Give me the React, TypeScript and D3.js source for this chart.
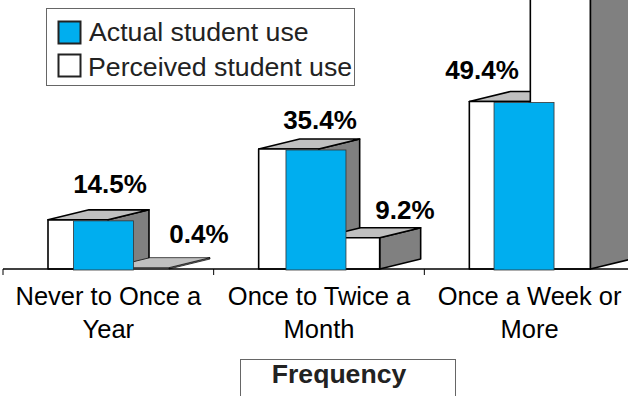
import React from "react";
import * as d3 from "d3";

const categories = ["Never to Once a Year", "Once to Twice a Month", "Once a Week or More"];
const categoryLines = [["Never to Once a", "Year"], ["Once to Twice a", "Month"], ["Once a Week or", "More"]];
const actualUse = [14.5, 35.4, 49.4];
const perceivedUse = [0.4, 9.2, 92];
const perceivedLabels = ["0.4%", "9.2%", null];

const W = 628, H = 396;
const DEPTH_X = 41, DEPTH_Y = 10;
const BAR_W = 60;
const BASE = 269;

const x = d3.scaleBand<string>().domain(categories).range([3, 635]);
const y = d3.scaleLinear().domain([0, 50]).range([BASE, BASE - 169.5]);

// Hand-placed label anchors and the nudges of the blue faces within each band
const actualLabelPos = [[110, 193], [320, 129], [482, 79]];
const perceivedLabelPos = [[199, 243], [405, 219]];
const blueNudge = [70.5, 72.3, 69.7];

const INK = "#000";
const TOP = "#c0c0c0";
const SIDE = "#808080";
const BLUE = "#00aeef";

function Box({ left, value }: { left: number; value: number }) {
  const top = y(value);
  const r = left + BAR_W;
  const flat = BASE - top < 3;
  const pts = (a: number[][]) => a.map((p) => p.join(",")).join(" ");
  return (
    <g stroke={INK} strokeWidth={flat ? 0.7 : 1.6} strokeLinejoin="round">
      <polygon
        points={pts([[r, BASE], [r + DEPTH_X, BASE - DEPTH_Y], [r + DEPTH_X, top - DEPTH_Y], [r, top]])}
        fill={SIDE}
      />
      <polygon
        points={pts([[left, top], [left + DEPTH_X, top - DEPTH_Y], [r + DEPTH_X, top - DEPTH_Y], [r, top]])}
        fill={TOP}
      />
      {!flat && <rect x={left} y={top} width={BAR_W} height={BASE - top} fill="#fff" />}
    </g>
  );
}

export default function App() {
  const font = "'Liberation Sans', Arial, sans-serif";
  return (
    <svg
      width={W}
      height={H}
      viewBox={`0 0 ${W} ${H}`}
      style={{ position: "absolute", left: 0, top: 0, background: "#fff" }}
      fontFamily={font}
    >
      {/* Rear boxes, then front boxes, then the blue actual-use faces */}
      {categories.map((c, i) => (
        <Box key={c} left={(x(c) as number) + 45} value={actualUse[i]} />
      ))}
      {categories.map((c, i) => (
        <Box key={c} left={(x(c) as number) + 106} value={perceivedUse[i]} />
      ))}

      {/* Category axis */}
      <line x1={3} x2={W} y1={BASE} y2={BASE} stroke={INK} strokeWidth={1.6} />
      {categories.map((c) => (
        <line key={c} x1={x(c)} x2={x(c)} y1={BASE} y2={275} stroke={INK} strokeWidth={1} />
      ))}

      {categories.map((c, i) => (
        <rect
          key={c}
          x={(x(c) as number) + blueNudge[i]}
          y={y(actualUse[i]) + 1}
          width={BAR_W}
          height={BASE - y(actualUse[i])}
          fill={BLUE}
          stroke="#333"
          strokeWidth={0.8}
        />
      ))}

      {/* Value labels */}
      <g fontWeight="bold" fontSize={26} textAnchor="middle" fill={INK}>
        {actualUse.map((v, i) => (
          <text key={v} x={actualLabelPos[i][0]} y={actualLabelPos[i][1]}>{`${v}%`}</text>
        ))}
        {perceivedLabels.map((t, i) =>
          t ? (
            <text key={t} x={perceivedLabelPos[i][0]} y={perceivedLabelPos[i][1]}>{t}</text>
          ) : null
        )}
      </g>

      {/* Category labels */}
      <g fontSize={25.5} textAnchor="middle" fill={INK}>
        {categories.map((c, i) =>
          categoryLines[i].map((line, j) => (
            <text key={line} x={(x(c) as number) + x.bandwidth() / 2} y={305 + j * 33}>{line}</text>
          ))
        )}
      </g>

      {/* Legend */}
      <rect x={46.5} y={8.5} width={308} height={77} fill="#fff" stroke="#666" strokeWidth={1} />
      <rect x={58.5} y={21.5} width={22} height={22} fill={BLUE} stroke="#222" strokeWidth={2} />
      <rect x={58.5} y={54.5} width={22} height={22} fill="#fff" stroke="#222" strokeWidth={2} />
      <g fontSize={26.7} fill="#222">
        <text x={89} y={41}>Actual student use</text>
        <text x={88} y={76}>Perceived student use</text>
      </g>

      {/* Axis title box, cut off by the bottom edge */}
      <rect x={240.5} y={359.5} width={215} height={60} fill="#fff" stroke="#666" strokeWidth={1} />
      <text x={339} y={383} fontSize={26.6} fontWeight="bold" textAnchor="middle" fill="#222">Frequency</text>
    </svg>
  );
}
